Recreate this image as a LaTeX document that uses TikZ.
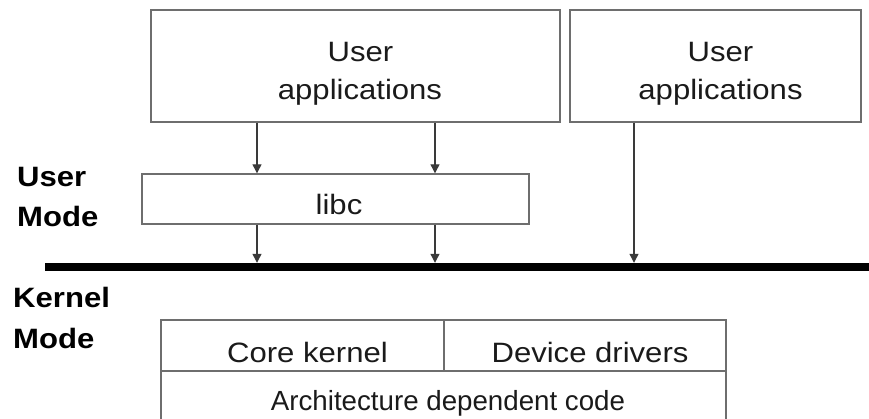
\documentclass[tikz,border=0pt]{standalone}
\usepackage{fontspec}
\setmainfont{Liberation Sans}
\newfontfamily\widefont{Liberation Sans}[FakeStretch=1.11]
\usetikzlibrary{arrows.meta}

\definecolor{framegray}{HTML}{6E6E6E}
\definecolor{arrowgray}{HTML}{3A3A3A}
\definecolor{inkblack}{HTML}{1A1A1A}

\tikzset{
  frame/.style={draw=framegray, line width=1.4pt, fill=none, inner sep=0pt},
  label/.style={inner sep=0pt, anchor=base, text=inkblack,
                font=\widefont\fontsize{28}{34}\selectfont},
  archlabel/.style={inner sep=0pt, anchor=base, text=inkblack,
                font=\fontsize{27.7}{34}\selectfont},
  modelabel/.style={inner sep=0pt, anchor=base west, text=black,
                font=\widefont\bfseries\fontsize{28}{34}\selectfont},
  arr/.style={draw=arrowgray, line width=1.2pt,
              -{Triangle[length=9pt,width=9pt]}},
  barline/.style={fill=black, draw=none, inner sep=0pt}
}

\begin{document}
\begin{tikzpicture}[x=1pt, y=-1pt]
\useasboundingbox (0,0) rectangle (869,419);

% user space boxes
\node[frame, minimum width=409pt, minimum height=112pt] (app1) at (355.5,66) {};
\node[frame, minimum width=291pt, minimum height=112pt] (app2) at (715.5,66) {};
\node[frame, minimum width=387pt, minimum height=50pt]  (libc) at (335.5,199) {};

\node[label] (app1a) at (360.5,62)  {User};
\node[label] (app1b) at (360,100)   {applications};
\node[label] (app2a) at (720.5,62)  {User};
\node[label] (app2b) at (720.5,100) {applications};
\node[label] (libct) at (339,215)   {libc};

% user/kernel boundary
\node[barline, minimum width=824pt, minimum height=8pt] (bar) at (457,267) {};

% mode labels
\node[modelabel] (um1) at (17,187) {User};
\node[modelabel] (um2) at (17,227) {Mode};
\node[modelabel] (km1) at (13,307) {Kernel};
\node[modelabel] (km2) at (13,348) {Mode};

% kernel blocks
\begin{scope}
  \clip (0,0) rectangle (869,419);
  \node[frame, minimum width=283pt, minimum height=51pt] (core) at (302.5,345.5) {};
  \node[frame, minimum width=282pt, minimum height=51pt] (drv)  at (585,345.5) {};
  \node[frame, minimum width=565pt, minimum height=80pt] (arch) at (443.5,411) {};
\end{scope}

\node[label] (coret) at (307.5,362) {Core kernel};
\node[label] (drvt)  at (590,362)   {Device drivers};
\node[archlabel] (archt) at (448,410) {Architecture dependent code};

% call paths
\coordinate (xa) at (257,0);
\coordinate (xb) at (435,0);
\coordinate (xc) at (634,0);

\draw[arr] (app1.south -| xa) -- (libc.north -| xa);
\draw[arr] (app1.south -| xb) -- (libc.north -| xb);
\draw[arr] (libc.south -| xa) -- (bar.north -| xa);
\draw[arr] (libc.south -| xb) -- (bar.north -| xb);
\draw[arr] (app2.south -| xc) -- (bar.north -| xc);
\end{tikzpicture}
\end{document}
